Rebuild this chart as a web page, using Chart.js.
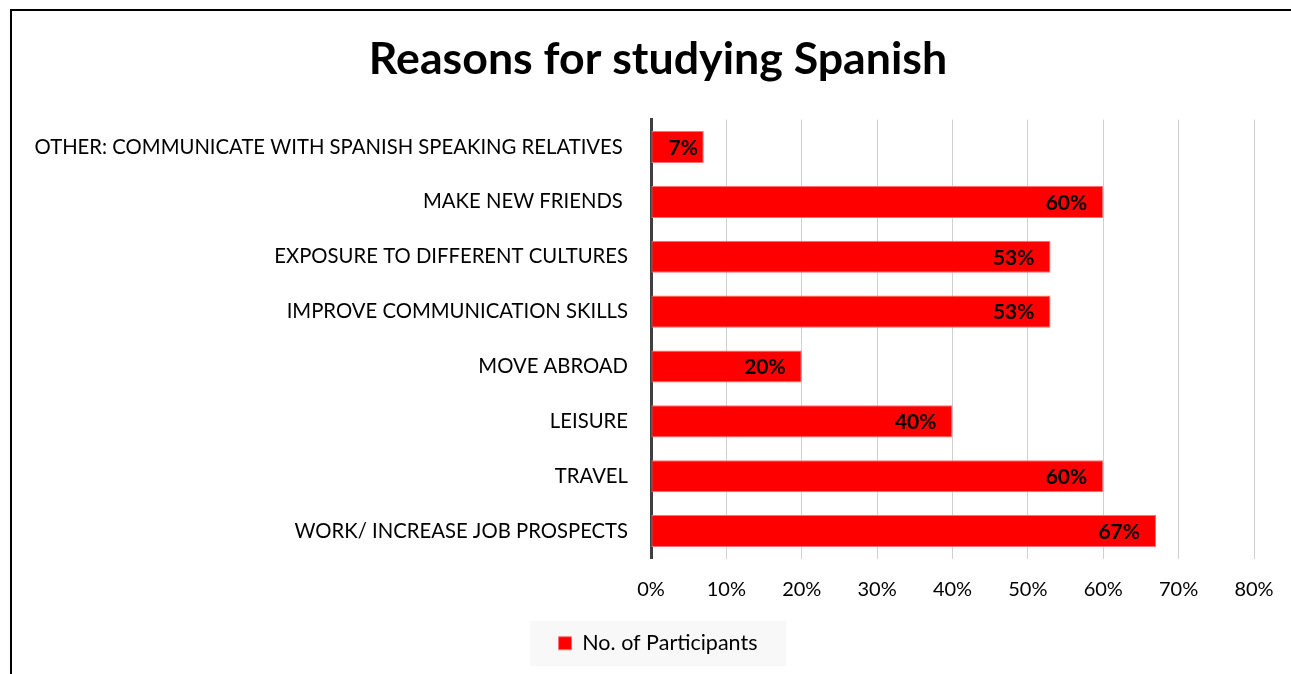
<!DOCTYPE html>
<html>
<head>
<meta charset="utf-8">
<script src="https://cdn.jsdelivr.net/npm/chart.js@4.4.1/dist/chart.umd.min.js"></script>
<style>
  html, body { margin: 0; padding: 0; background: #fff; overflow: hidden; }
  #wrap { position: relative; width: 1291px; height: 674px; }
  #frame { position: absolute; left: 10px; top: 9px; width: 1400px; height: 800px;
           border-left: 2px solid #000; border-top: 2px solid #000; box-sizing: border-box; }
  #chart { position: absolute; left: 0; top: 0; }
</style>
</head>
<body>
<div id="wrap">
  <div id="frame"></div>
  <canvas id="chart" width="1291" height="674"></canvas>
</div>
<script>
// Survey answers, top to bottom
const categories = [
  'OTHER: COMMUNICATE WITH SPANISH SPEAKING RELATIVES ',
  'MAKE NEW FRIENDS ',
  'EXPOSURE TO DIFFERENT CULTURES',
  'IMPROVE COMMUNICATION SKILLS',
  'MOVE ABROAD',
  'LEISURE',
  'TRAVEL',
  'WORK/ INCREASE JOB PROSPECTS'
];
// Share of participants (%)
const participants = [7, 60, 53, 53, 20, 40, 60, 67];
// Percentage axis ticks
const xTicks = [0, 10, 20, 30, 40, 50, 60, 70, 80];

const FONT = 'Lato, "Open Sans", sans-serif';

// Centre the title and legend over the plot rather than the whole canvas
const centreBlocks = {
  id: 'centreBlocks',
  afterLayout(chart) {
    const shift = 62;
    [chart.titleBlock, chart.legend].forEach(b => {
      if (!b) return;
      b.left = shift;
      b.width = b.right - b.left;
    });
  }
};

// Grey panel behind the legend entry
const legendPanel = {
  id: 'legendPanel',
  beforeDraw(chart) {
    const lg = chart.legend;
    if (!lg || !lg.legendHitBoxes || !lg.legendHitBoxes.length) return;
    const hb = lg.legendHitBoxes[0];
    const cx = hb.left + hb.width / 2;
    const cy = hb.top + hb.height / 2;
    const w = hb.width + 57, h = 45;
    const ctx = chart.ctx;
    ctx.save();
    ctx.fillStyle = '#f8f8f8';
    ctx.fillRect(Math.round(cx - w / 2), Math.round(cy - h / 2), w, h);
    ctx.restore();
  }
};

// Bold value labels at the inner end of each bar
const valueLabels = {
  id: 'valueLabels',
  afterDatasetsDraw(chart) {
    const ctx = chart.ctx;
    const meta = chart.getDatasetMeta(0);
    ctx.save();
    ctx.font = 'bold 21px ' + FONT;
    ctx.fillStyle = '#000';
    ctx.textBaseline = 'middle';
    ctx.textAlign = 'left';
    meta.data.forEach((bar, i) => {
      const txt = participants[i] + '%';
      const w = ctx.measureText(txt).width;
      const left = Math.max(bar.x - 16 - w, bar.base + 17);
      ctx.fillText(txt, left, bar.y + 1);
    });
    ctx.restore();
  }
};

new Chart(document.getElementById('chart'), {
  type: 'bar',
  data: {
    labels: categories,
    datasets: [{
      label: 'No. of Participants',
      data: participants,
      backgroundColor: '#ff0000',
      borderColor: '#ff7070',
      borderWidth: 1,
      borderSkipped: false,
      categoryPercentage: 1,
      barPercentage: 0.585
    }]
  },
  options: {
    indexAxis: 'y',
    responsive: false,
    animation: false,
    devicePixelRatio: 1,
    layout: { padding: { left: 0, right: 37, top: 0, bottom: 10 } },
    scales: {
      x: {
        min: 0,
        max: 80,
        afterBuildTicks(scale) { scale.ticks = xTicks.map(v => ({ value: v })); },
        afterFit(scale) { scale.paddingLeft = 0; scale.paddingRight = 0; },
        ticks: {
          callback: v => v + '%',
          color: '#000',
          font: { family: FONT, size: 20 },
          padding: 19
        },
        grid: { color: '#d0d0d0', lineWidth: 1, drawTicks: false },
        border: { display: false }
      },
      y: {
        afterFit(scale) { scale.width = 651; },
        ticks: {
          color: '#000',
          font: { family: FONT, size: 20.3 },
          padding: 23
        },
        grid: { display: false, drawTicks: false },
        border: { display: true, color: '#404040', width: 3 }
      }
    },
    plugins: {
      title: {
        display: true,
        text: 'Reasons for studying Spanish',
        color: '#000',
        font: { family: FONT, size: 44.7, weight: 'bold' },
        padding: { top: 33, bottom: 33 }
      },
      legend: {
        position: 'bottom',
        labels: {
          color: '#000',
          font: { family: FONT, size: 21.5 },
          boxWidth: 13,
          boxHeight: 13,
          padding: 12
        }
      },
      tooltip: { enabled: false }
    }
  },
  plugins: [centreBlocks, legendPanel, valueLabels]
});
</script>
</body>
</html>
